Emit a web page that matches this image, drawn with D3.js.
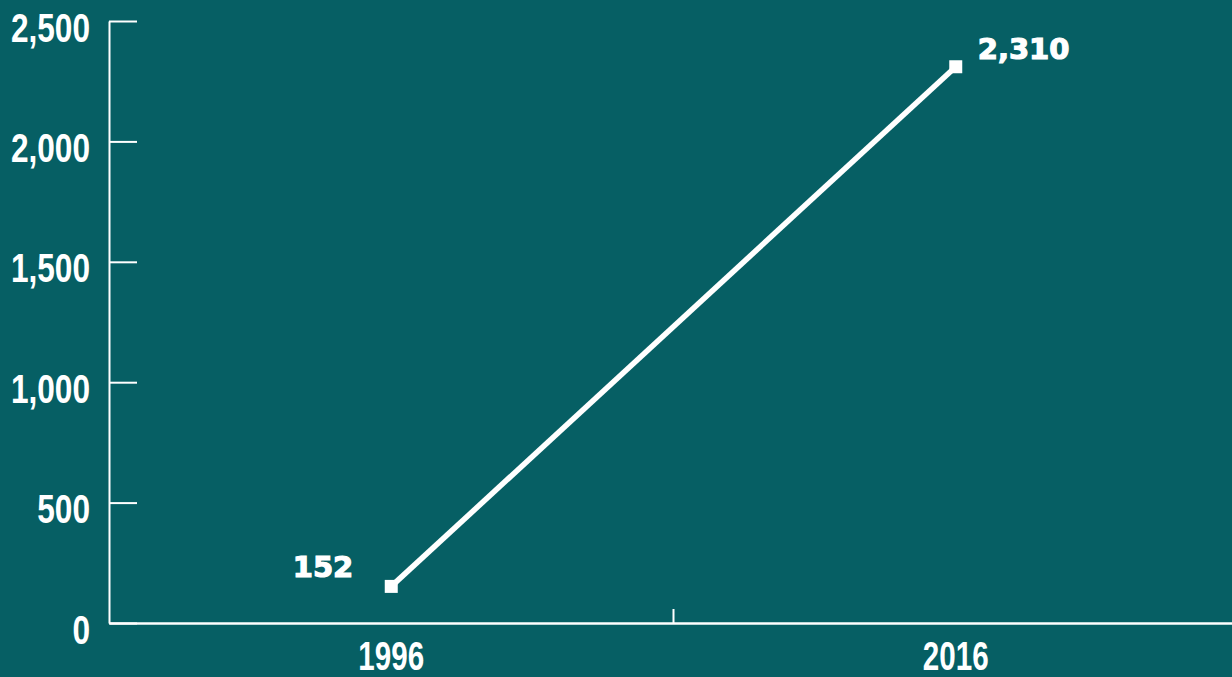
<!DOCTYPE html>
<html>
<head>
<meta charset="utf-8">
<script src="https://cdn.jsdelivr.net/npm/d3@7"></script>
<style>
  html, body { margin: 0; padding: 0; background: #065f64; }
  svg { display: block; }
  .tick text { font-family: "Liberation Sans", sans-serif; font-weight: bold; fill: #fff; }
  .val { font-family: "DejaVu Sans", sans-serif; font-weight: bold; fill: #fff; stroke: #fff; stroke-width: 1.2; }
</style>
</head>
<body>
<svg id="chart" width="1232" height="677"></svg>
<script>
const years = ["1996", "2016"];
const values = [152, 2310];
const valueLabels = ["152", "2,310"];
const yTicks = [0, 500, 1000, 1500, 2000, 2500];

const W = 1232, H = 677;
const SXY = 0.79; // horizontal condensing of y labels
const SXX = 0.74; // horizontal condensing of x labels
const svg = d3.select("#chart");
svg.append("rect").attr("width", W).attr("height", H).attr("fill", "#065f64");

const x = d3.scaleBand().domain(years).range([109, 1238]).padding(0);
const y = d3.scaleLinear().domain([0, 2500]).range([623, 21]);

// Y axis
const yAxis = svg.append("g").attr("transform", "translate(109,0)")
  .call(d3.axisLeft(y).tickValues(yTicks).tickFormat(d3.format(",")).tickSizeInner(-28).tickSizeOuter(0).tickPadding(19));
yAxis.select(".domain").attr("stroke", "#fff").attr("stroke-width", 2);
yAxis.selectAll(".tick line").attr("stroke", "#fff").attr("stroke-width", 2);
yAxis.selectAll(".tick text").attr("font-size", 40).attr("dy", "0.5em")
  .attr("x", -19 / SXY).attr("transform", `scale(${SXY},1)`);

// X axis
const xAxis = svg.append("g").attr("transform", "translate(0,623)")
  .call(d3.axisBottom(x).tickSize(0).tickPadding(19));
xAxis.select(".domain").attr("stroke", "#fff").attr("stroke-width", 2.5);
xAxis.selectAll(".tick text").attr("font-size", 40).attr("transform", `scale(${SXX},1)`);

// middle boundary tick
svg.append("line")
  .attr("x1", x(years[1])).attr("x2", x(years[1]))
  .attr("y1", 609).attr("y2", 623)
  .attr("stroke", "#fff").attr("stroke-width", 2);

const data = years.map((yr, i) => ({ yr, v: values[i], label: valueLabels[i] }));
const cx = d => x(d.yr) + x.bandwidth() / 2;

svg.append("path")
  .datum(data)
  .attr("fill", "none")
  .attr("stroke", "#fff")
  .attr("stroke-width", 5.5)
  .attr("d", d3.line().x(cx).y(d => y(d.v)));

svg.selectAll("rect.pt").data(data).join("rect")
  .attr("class", "pt")
  .attr("x", d => cx(d) - 6.5).attr("y", d => y(d.v) - 6.5)
  .attr("width", 13).attr("height", 13)
  .attr("fill", "#fff");

// value labels
svg.append("text").attr("class", "val")
  .attr("x", cx(data[0]) - 38).attr("y", y(data[0].v) - 9)
  .attr("text-anchor", "end").attr("font-size", 29)
  .text(data[0].label);
svg.append("text").attr("class", "val")
  .attr("x", cx(data[1]) + 22).attr("y", y(data[1].v) - 8)
  .attr("text-anchor", "start").attr("font-size", 29)
  .text(data[1].label);
</script>
</body>
</html>
